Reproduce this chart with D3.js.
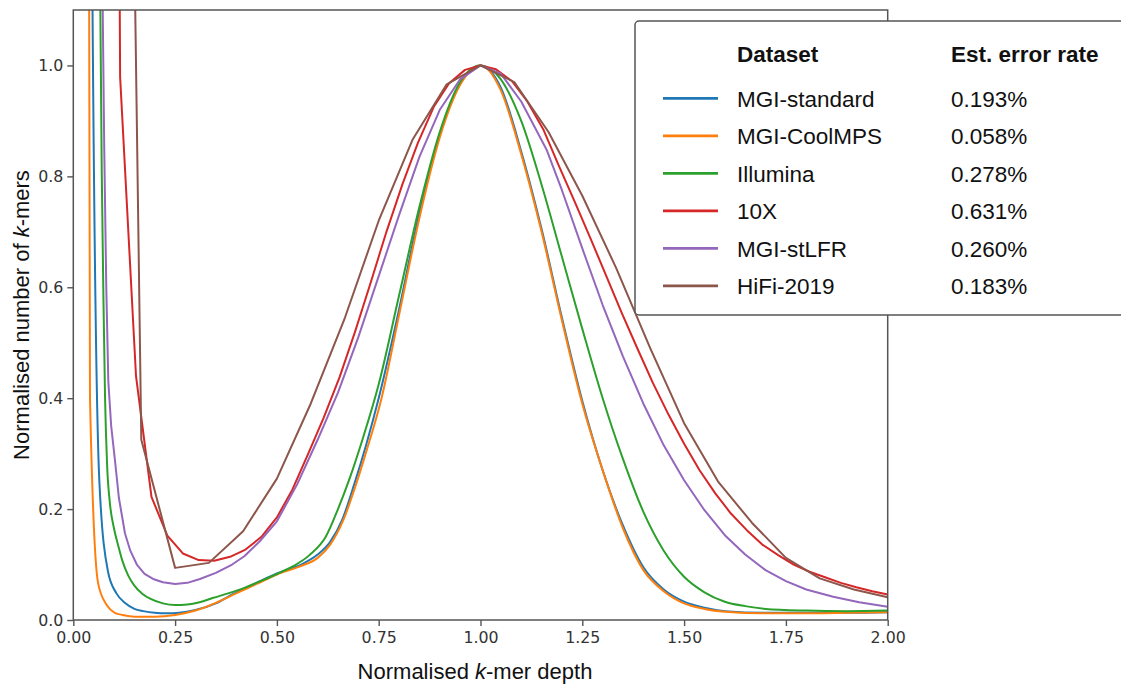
<!DOCTYPE html>
<html>
<head>
<meta charset="utf-8">
<script src="https://d3js.org/d3.v7.min.js"></script>
<style>
  body { margin: 0; background: #fff; }
  .tick text { font-family: "DejaVu Sans", sans-serif; font-size: 15.8px; fill: #333; }
  .tick line { stroke: #555; stroke-width: 1.4; }
  .lab { font-family: "Liberation Sans", Arial, sans-serif; font-size: 22px; fill: #111; }
  .leg { font-family: "Liberation Sans", Arial, sans-serif; font-size: 22.5px; fill: #111; }
</style>
</head>
<body>
<svg width="1121" height="684"></svg>
<script>
// legend / series info
var datasets = ["MGI-standard", "MGI-CoolMPS", "Illumina", "10X", "MGI-stLFR", "HiFi-2019"];
var errorRates = ["0.193%", "0.058%", "0.278%", "0.631%", "0.260%", "0.183%"];
var colors = ["#1f77b4", "#ff7f0e", "#2ca02c", "#d62728", "#9467bd", "#8c564b"];

var xTicks = [0, 0.25, 0.5, 0.75, 1.0, 1.25, 1.5, 1.75, 2.0];
var yTicks = [0, 0.2, 0.4, 0.6, 0.8, 1.0];

// MGI-standard
var stdX = [0.021, 0.043, 0.064, 0.085, 0.106, 0.128, 0.15, 0.172, 0.2, 0.23, 0.26, 0.3, 0.35, 0.393, 0.45, 0.5, 0.557, 0.6, 0.63, 0.66, 0.69, 0.72, 0.75, 0.8, 0.85, 0.9, 0.95, 1.0, 1.05, 1.1, 1.15, 1.2, 1.25, 1.3, 1.35, 1.4, 1.45, 1.5, 1.55, 1.6, 1.7, 1.8, 1.9, 2.0];
var stdY = [10, 1.56, 0.25, 0.088, 0.048, 0.03, 0.02, 0.016, 0.013, 0.012, 0.013, 0.018, 0.03, 0.047, 0.067, 0.084, 0.099, 0.118, 0.14, 0.18, 0.245, 0.318, 0.4, 0.56, 0.735, 0.875, 0.967, 1.0, 0.96, 0.845, 0.705, 0.545, 0.395, 0.27, 0.17, 0.095, 0.055, 0.033, 0.022, 0.016, 0.013, 0.013, 0.013, 0.014];

// MGI-CoolMPS
var coolX = [0.020, 0.041, 0.061, 0.082, 0.102, 0.122, 0.15, 0.2, 0.25, 0.3, 0.35, 0.4, 0.45, 0.5, 0.55, 0.6, 0.63, 0.663, 0.69, 0.72, 0.757, 0.8, 0.85, 0.9, 0.95, 1.0, 1.05, 1.1, 1.15, 1.2, 1.25, 1.3, 1.35, 1.4, 1.45, 1.5, 1.55, 1.6, 1.7, 1.8, 1.9, 2.0];
var coolY = [7.6, 0.4, 0.066, 0.027, 0.013, 0.009, 0.006, 0.006, 0.009, 0.017, 0.031, 0.048, 0.065, 0.082, 0.095, 0.112, 0.135, 0.18, 0.235, 0.305, 0.4, 0.55, 0.725, 0.87, 0.965, 1.0, 0.955, 0.84, 0.7, 0.54, 0.39, 0.27, 0.165, 0.09, 0.052, 0.03, 0.02, 0.015, 0.012, 0.012, 0.013, 0.014];

// Illumina
var illX = [0.064, 0.07, 0.074, 0.078, 0.083, 0.09, 0.1, 0.11, 0.12, 0.135, 0.15, 0.17, 0.19, 0.22, 0.25, 0.28, 0.31, 0.344, 0.38, 0.42, 0.46, 0.5, 0.54, 0.58, 0.62, 0.65, 0.68, 0.71, 0.75, 0.8, 0.85, 0.9, 0.95, 1.0, 1.05, 1.1, 1.15, 1.2, 1.25, 1.3, 1.35, 1.4, 1.45, 1.5, 1.55, 1.6, 1.65, 1.7, 1.8, 1.9, 2.0];
var illY = [1.3, 0.8, 0.58, 0.4, 0.28, 0.21, 0.165, 0.135, 0.108, 0.08, 0.062, 0.047, 0.038, 0.03, 0.027, 0.028, 0.032, 0.04, 0.048, 0.058, 0.07, 0.083, 0.097, 0.117, 0.15, 0.2, 0.258, 0.325, 0.425, 0.585, 0.745, 0.88, 0.97, 1.0, 0.975, 0.9, 0.785, 0.655, 0.525, 0.4, 0.29, 0.195, 0.125, 0.078, 0.05, 0.033, 0.025, 0.02, 0.017, 0.016, 0.017];

// 10X
var tenX = [0.077, 0.115, 0.154, 0.192, 0.231, 0.269, 0.308, 0.346, 0.385, 0.423, 0.462, 0.5, 0.538, 0.577, 0.615, 0.654, 0.692, 0.731, 0.769, 0.808, 0.846, 0.885, 0.923, 0.962, 1.0, 1.038, 1.077, 1.115, 1.154, 1.192, 1.231, 1.269, 1.308, 1.346, 1.385, 1.423, 1.462, 1.5, 1.538, 1.577, 1.615, 1.654, 1.692, 1.731, 1.769, 1.808, 1.846, 1.885, 1.923, 1.962, 2.0];
var tenY = [6.0, 0.979, 0.44, 0.222, 0.152, 0.12, 0.108, 0.107, 0.114, 0.127, 0.15, 0.185, 0.235, 0.3, 0.365, 0.438, 0.52, 0.61, 0.7, 0.785, 0.86, 0.925, 0.968, 0.992, 1.0, 0.993, 0.972, 0.935, 0.885, 0.82, 0.755, 0.69, 0.622, 0.555, 0.49, 0.428, 0.37, 0.318, 0.27, 0.228, 0.192, 0.162, 0.136, 0.117, 0.1, 0.087, 0.077, 0.067, 0.059, 0.052, 0.046];

// MGI-stLFR
var lfrX = [0.07, 0.076, 0.081, 0.086, 0.093, 0.102, 0.112, 0.127, 0.14, 0.156, 0.175, 0.196, 0.22, 0.25, 0.28, 0.311, 0.35, 0.39, 0.42, 0.458, 0.5, 0.55, 0.6, 0.65, 0.7, 0.75, 0.8, 0.85, 0.9, 0.95, 1.0, 1.05, 1.1, 1.163, 1.2, 1.25, 1.3, 1.35, 1.4, 1.45, 1.5, 1.55, 1.6, 1.65, 1.7, 1.75, 1.8, 1.866, 1.93, 2.0];
var lfrY = [1.25, 0.85, 0.6, 0.43, 0.35, 0.29, 0.22, 0.156, 0.125, 0.1, 0.083, 0.074, 0.068, 0.065, 0.067, 0.074, 0.085, 0.1, 0.115, 0.142, 0.178, 0.245, 0.325, 0.41, 0.51, 0.62, 0.73, 0.835, 0.92, 0.975, 1.0, 0.985, 0.935, 0.847, 0.775, 0.67, 0.568, 0.475, 0.39, 0.315, 0.252, 0.198, 0.153, 0.118, 0.09, 0.07, 0.055, 0.042, 0.032, 0.024];

// HiFi-2019
var hifiX = [0.083, 0.167, 0.25, 0.333, 0.417, 0.5, 0.583, 0.667, 0.75, 0.833, 0.917, 1.0, 1.083, 1.167, 1.25, 1.333, 1.417, 1.5, 1.583, 1.667, 1.75, 1.833, 1.917, 2.0];
var hifiY = [4.7, 0.325, 0.094, 0.103, 0.16, 0.255, 0.39, 0.545, 0.72, 0.866, 0.966, 1.0, 0.97, 0.88, 0.765, 0.635, 0.49, 0.355, 0.25, 0.175, 0.112, 0.075, 0.055, 0.041];

var seriesX = [stdX, coolX, illX, tenX, lfrX, hifiX];
var seriesY = [stdY, coolY, illY, tenY, lfrY, hifiY];

var svg = d3.select("svg");
var margin = { left: 73.3, right: 887.7, top: 10, bottom: 620 };

var x = d3.scaleLinear().domain([0, 2]).range([margin.left, margin.right]);
var y = d3.scaleLinear().domain([0, 1.1]).range([margin.bottom, margin.top]);

svg.append("clipPath").attr("id", "plotclip")
  .append("rect")
  .attr("x", x(0)).attr("y", y(1.1))
  .attr("width", x(2) - x(0)).attr("height", y(0) - y(1.1));

var line = d3.line()
  .x(function(d) { return x(d[0]); })
  .y(function(d) { return y(d[1]); });

var curves = svg.append("g").attr("clip-path", "url(#plotclip)");
seriesX.forEach(function(xs, i) {
  var pts = xs.map(function(v, j) { return [v, seriesY[i][j]]; });
  // the 10X and HiFi curves show their sample points as kinks
  var c = (i >= 3) ? d3.curveLinear : d3.curveMonotoneX;
  curves.append("path")
    .datum(pts)
    .attr("fill", "none")
    .attr("stroke", colors[i])
    .attr("stroke-width", 2)
    .attr("stroke-linejoin", "round")
    .attr("d", line.curve(c));
});

// axes
var gx = svg.append("g")
  .attr("transform", "translate(0," + margin.bottom + ")")
  .call(d3.axisBottom(x).tickValues(xTicks).tickFormat(d3.format(".2f")).tickSize(6).tickPadding(6));
gx.select(".domain").remove();

var gy = svg.append("g")
  .attr("transform", "translate(" + margin.left + ",0)")
  .call(d3.axisLeft(y).tickValues(yTicks).tickFormat(d3.format(".1f")).tickSize(6).tickPadding(4));
gy.select(".domain").remove();

svg.append("rect")
  .attr("x", x(0)).attr("y", y(1.1))
  .attr("width", x(2) - x(0)).attr("height", y(0) - y(1.1))
  .attr("fill", "none").attr("stroke", "#555").attr("stroke-width", 1.5);

// axis labels
var xl = svg.append("text").attr("class", "lab")
  .attr("x", 475).attr("y", 679).attr("text-anchor", "middle");
xl.append("tspan").text("Normalised ");
xl.append("tspan").attr("font-style", "italic").text("k");
xl.append("tspan").text("-mer depth");

var yl = svg.append("text").attr("class", "lab")
  .attr("transform", "translate(28.5,315) rotate(-90)")
  .attr("text-anchor", "middle");
yl.append("tspan").text("Normalised number of ");
yl.append("tspan").attr("font-style", "italic").text("k");
yl.append("tspan").text("-mers");

// legend
var lg = svg.append("g");
lg.append("rect")
  .attr("x", 635).attr("y", 21).attr("width", 520).attr("height", 294)
  .attr("rx", 4).attr("ry", 4)
  .attr("fill", "#fff").attr("stroke", "#555").attr("stroke-width", 1.5);

lg.append("text").attr("class", "leg").attr("font-weight", "bold")
  .attr("x", 737).attr("y", 61.7).text("Dataset");
lg.append("text").attr("class", "leg").attr("font-weight", "bold")
  .attr("x", 951).attr("y", 61.7).text("Est. error rate");

var rows = lg.selectAll("g.row").data(datasets).enter().append("g")
  .attr("class", "row")
  .attr("transform", function(d, i) { return "translate(0," + (98.3 + i * 37.5) + ")"; });
rows.append("line")
  .attr("x1", 663).attr("x2", 718).attr("y1", 0).attr("y2", 0)
  .attr("stroke", function(d, i) { return colors[i]; })
  .attr("stroke-width", 2.8);
rows.append("text").attr("class", "leg")
  .attr("x", 737).attr("y", 8.4).text(function(d) { return d; });
rows.append("text").attr("class", "leg")
  .attr("x", 951).attr("y", 8.4).text(function(d, i) { return errorRates[i]; });
</script>
</body>
</html>
